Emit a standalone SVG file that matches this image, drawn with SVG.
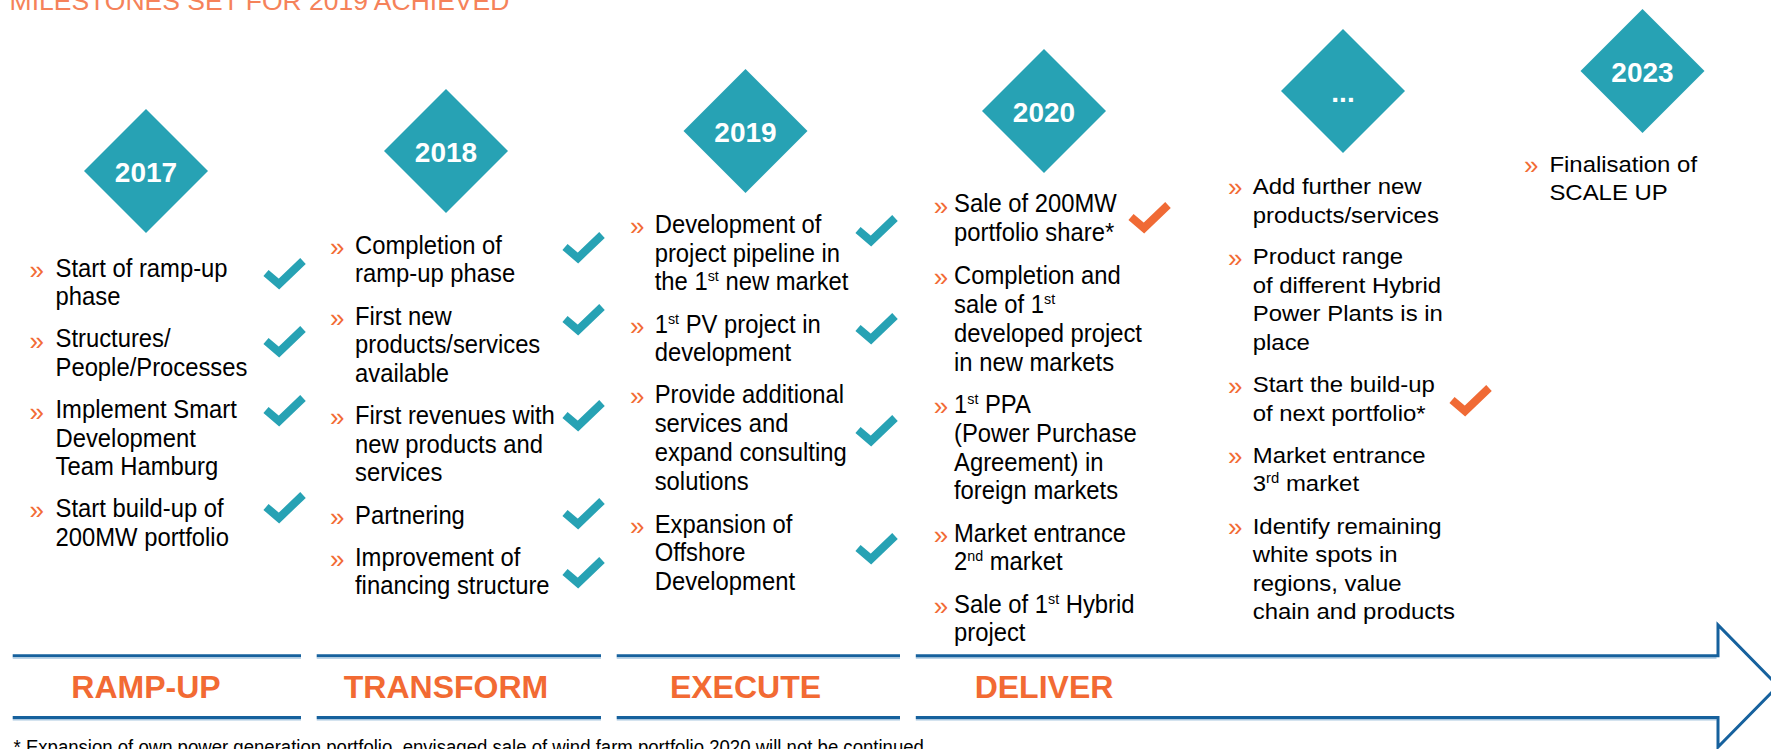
<svg xmlns="http://www.w3.org/2000/svg" width="1771" height="749" viewBox="0 0 1771 749">
<defs>
<style>
  text { font-family: "Liberation Sans", Arial, sans-serif; }
  .title { font-size: 26.5px; fill: #F5825A; }
  .dia { fill: #27A2B4; }
  .yr { font-size: 28px; font-weight: bold; fill: #FFFFFF; text-anchor: middle; }
  .b { font-size: 26px; fill: #F26B35; }
  .t { font-size: 25px; fill: #000000; }
  .t2 { font-size: 22.5px; fill: #000000; }
  .sup { font-size: 15px; }
  .sup2 { font-size: 14px; }
  .chk { fill: none; stroke-width: 8; stroke-linejoin: miter; stroke-linecap: butt; }
  .ok { stroke: #27A2B4; }
  .ok2 { stroke: #F06A35; }
  .ph { font-size: 32px; font-weight: bold; fill: #F26A33; text-anchor: middle; }
  .bar { stroke: #16619D; stroke-width: 3; fill: none; }
  .shade { stroke: #A9C7E0; stroke-width: 1.5; fill: none; }
  .note { font-size: 19.5px; fill: #000000; }
</style>
<path id="chk" d="M3,16 L16,27 L40,4"/>
</defs>

<rect width="1771" height="749" fill="#FFFFFF"/>

<text class="title" x="9.6" y="10">MILESTONES SET FOR 2019 ACHIEVED</text>

<!-- 2017 -->
<g id="col-2017">
  <polygon class="dia" points="146,109 208,171 146,233 84,171"/>
  <text class="yr" x="146" y="182">2017</text>
  <g class="b">
    <text x="29.5" y="279">»</text>
    <text x="29.5" y="349.5">»</text>
    <text x="29.5" y="420.5">»</text>
    <text x="29.5" y="519.3">»</text>
  </g>
  <g class="t" transform="translate(55.5 0) scale(0.953 1)">
    <text x="0" y="277">Start of ramp-up</text>
    <text x="0" y="305">phase</text>
    <text x="0" y="347.5">Structures/</text>
    <text x="0" y="375.7">People/Processes</text>
    <text x="0" y="418.5">Implement Smart</text>
    <text x="0" y="446.7">Development</text>
    <text x="0" y="475">Team Hamburg</text>
    <text x="0" y="517.3">Start build-up of</text>
    <text x="0" y="546">200MW portfolio</text>
  </g>
  <use href="#chk" class="chk ok" x="263" y="257"/>
  <use href="#chk" class="chk ok" x="263" y="325"/>
  <use href="#chk" class="chk ok" x="263" y="394"/>
  <use href="#chk" class="chk ok" x="263" y="491"/>
</g>

<!-- 2018 -->
<g id="col-2018">
  <polygon class="dia" points="446,89 508,151 446,213 384,151"/>
  <text class="yr" x="446" y="162">2018</text>
  <g class="b">
    <text x="330" y="256">»</text>
    <text x="330" y="327">»</text>
    <text x="330" y="426">»</text>
    <text x="330" y="526">»</text>
    <text x="330" y="568">»</text>
  </g>
  <g class="t" transform="translate(355 0) scale(0.953 1)">
    <text x="0" y="254">Completion of</text>
    <text x="0" y="282.5">ramp-up phase</text>
    <text x="0" y="325">First new</text>
    <text x="0" y="353.3">products/services</text>
    <text x="0" y="381.7">available</text>
    <text x="0" y="424">First revenues with</text>
    <text x="0" y="452.7">new products and</text>
    <text x="0" y="481">services</text>
    <text x="0" y="524">Partnering</text>
    <text x="0" y="566">Improvement of</text>
    <text x="0" y="594.5">financing structure</text>
  </g>
  <use href="#chk" class="chk ok" x="562" y="231"/>
  <use href="#chk" class="chk ok" x="562" y="303"/>
  <use href="#chk" class="chk ok" x="562" y="399"/>
  <use href="#chk" class="chk ok" x="562" y="497"/>
  <use href="#chk" class="chk ok" x="562" y="556"/>
</g>

<!-- 2019 -->
<g id="col-2019">
  <polygon class="dia" points="745.5,69 807.5,131 745.5,193 683.5,131"/>
  <text class="yr" x="745.5" y="142">2019</text>
  <g class="b">
    <text x="630" y="235.3">»</text>
    <text x="630" y="334.7">»</text>
    <text x="630" y="405.3">»</text>
    <text x="630" y="534.7">»</text>
  </g>
  <g class="t" transform="translate(654.7 0) scale(0.953 1)">
    <text x="0" y="233.3">Development of</text>
    <text x="0" y="262">project pipeline in</text>
    <text x="0" y="290.5">the 1<tspan class="sup" dy="-9">st</tspan><tspan dy="9"> new market</tspan></text>
    <text x="0" y="332.7">1<tspan class="sup" dy="-9">st</tspan><tspan dy="9"> PV project in</tspan></text>
    <text x="0" y="361.5">development</text>
    <text x="0" y="403.3">Provide additional</text>
    <text x="0" y="432">services and</text>
    <text x="0" y="461">expand consulting</text>
    <text x="0" y="489.7">solutions</text>
    <text x="0" y="532.7">Expansion of</text>
    <text x="0" y="561.5">Offshore</text>
    <text x="0" y="590">Development</text>
  </g>
  <use href="#chk" class="chk ok" x="855" y="214"/>
  <use href="#chk" class="chk ok" x="855" y="312"/>
  <use href="#chk" class="chk ok" x="855" y="414"/>
  <use href="#chk" class="chk ok" x="855" y="532"/>
</g>

<!-- 2020 -->
<g id="col-2020">
  <polygon class="dia" points="1044,49 1106,111 1044,173 982,111"/>
  <text class="yr" x="1044" y="122">2020</text>
  <g class="b">
    <text x="933.7" y="214.5">»</text>
    <text x="933.7" y="286.3">»</text>
    <text x="933.7" y="415.3">»</text>
    <text x="933.7" y="543.7">»</text>
    <text x="933.7" y="614.7">»</text>
  </g>
  <g class="t" transform="translate(954 0) scale(0.953 1)">
    <text x="0" y="212.5">Sale of 200MW</text>
    <text x="0" y="241.5">portfolio share*</text>
    <text x="0" y="284.3">Completion and</text>
    <text x="0" y="313">sale of 1<tspan class="sup" dy="-9">st</tspan></text>
    <text x="0" y="342">developed project</text>
    <text x="0" y="370.7">in new markets</text>
    <text x="0" y="413.3">1<tspan class="sup" dy="-9">st</tspan><tspan dy="9"> PPA</tspan></text>
    <text x="0" y="442">(Power Purchase</text>
    <text x="0" y="470.7">Agreement) in</text>
    <text x="0" y="499.3">foreign markets</text>
    <text x="0" y="541.7">Market entrance</text>
    <text x="0" y="570.3">2<tspan class="sup" dy="-9">nd</tspan><tspan dy="9"> market</tspan></text>
    <text x="0" y="612.7">Sale of 1<tspan class="sup" dy="-9">st</tspan><tspan dy="9"> Hybrid</tspan></text>
    <text x="0" y="641">project</text>
  </g>
  <use href="#chk" class="chk ok2" x="1128" y="201"/>
</g>

<!-- later years -->
<g id="col-next">
  <polygon class="dia" points="1343,29 1405,91 1343,153 1281,91"/>
  <text class="yr" x="1343" y="102">...</text>
  <g class="b">
    <text x="1228" y="196.3">»</text>
    <text x="1228" y="266.5">»</text>
    <text x="1228" y="394.5">»</text>
    <text x="1228" y="465">»</text>
    <text x="1228" y="536">»</text>
  </g>
  <g class="t2" transform="translate(1252.7 0) scale(1.064 1)">
    <text x="0" y="194.3">Add further new</text>
    <text x="0" y="222.7">products/services</text>
    <text x="0" y="264.5">Product range</text>
    <text x="0" y="293">of different Hybrid</text>
    <text x="0" y="321.5">Power Plants is in</text>
    <text x="0" y="350">place</text>
    <text x="0" y="392.5">Start the build-up</text>
    <text x="0" y="421">of next portfolio*</text>
    <text x="0" y="463">Market entrance</text>
    <text x="0" y="491.5">3<tspan class="sup2" dy="-8">rd</tspan><tspan dy="8"> market</tspan></text>
    <text x="0" y="534">Identify remaining</text>
    <text x="0" y="562.5">white spots in</text>
    <text x="0" y="591">regions, value</text>
    <text x="0" y="619.5">chain and products</text>
  </g>
  <use href="#chk" class="chk ok2" x="1449" y="384"/>
</g>

<!-- 2023 -->
<g id="col-2023">
  <polygon class="dia" points="1642.5,9 1704.5,71 1642.5,133 1580.5,71"/>
  <text class="yr" x="1642.5" y="82">2023</text>
  <text class="b" x="1524" y="173.8">»</text>
  <g class="t2" transform="translate(1549.4 0) scale(1.064 1)">
    <text x="0" y="171.8">Finalisation of</text>
    <text x="0" y="200.5">SCALE UP</text>
  </g>
</g>

<!-- phase bars and the closing arrow -->
<g id="connectors">
  <path class="bar" d="M12.7,655.7 H301 M316.7,655.7 H601 M616.7,655.7 H900 M12.7,717.5 H301 M316.7,717.5 H601 M616.7,717.5 H900"/>
  <path class="shade" d="M12.7,658 H301 M316.7,658 H601 M616.7,658 H900 M12.7,719.8 H301 M316.7,719.8 H601 M616.7,719.8 H900 M915.8,658 H1716.5 M915.8,719.8 H1716.5"/>
  <path class="bar" d="M915.8,655.7 H1718 V625 L1778,686 L1718,747 V717.5 H915.8"/>
</g>

<g id="phases">
  <text class="ph" x="146" y="698">RAMP-UP</text>
  <text class="ph" x="446" y="698">TRANSFORM</text>
  <text class="ph" x="745.5" y="698">EXECUTE</text>
  <text class="ph" x="1044" y="698">DELIVER</text>
</g>

<g class="note" transform="translate(13.5 0) scale(0.953 1)">
  <text x="0" y="754">* Expansion of own power generation portfolio, envisaged sale of wind farm portfolio 2020 will not be continued</text>
</g>
</svg>
